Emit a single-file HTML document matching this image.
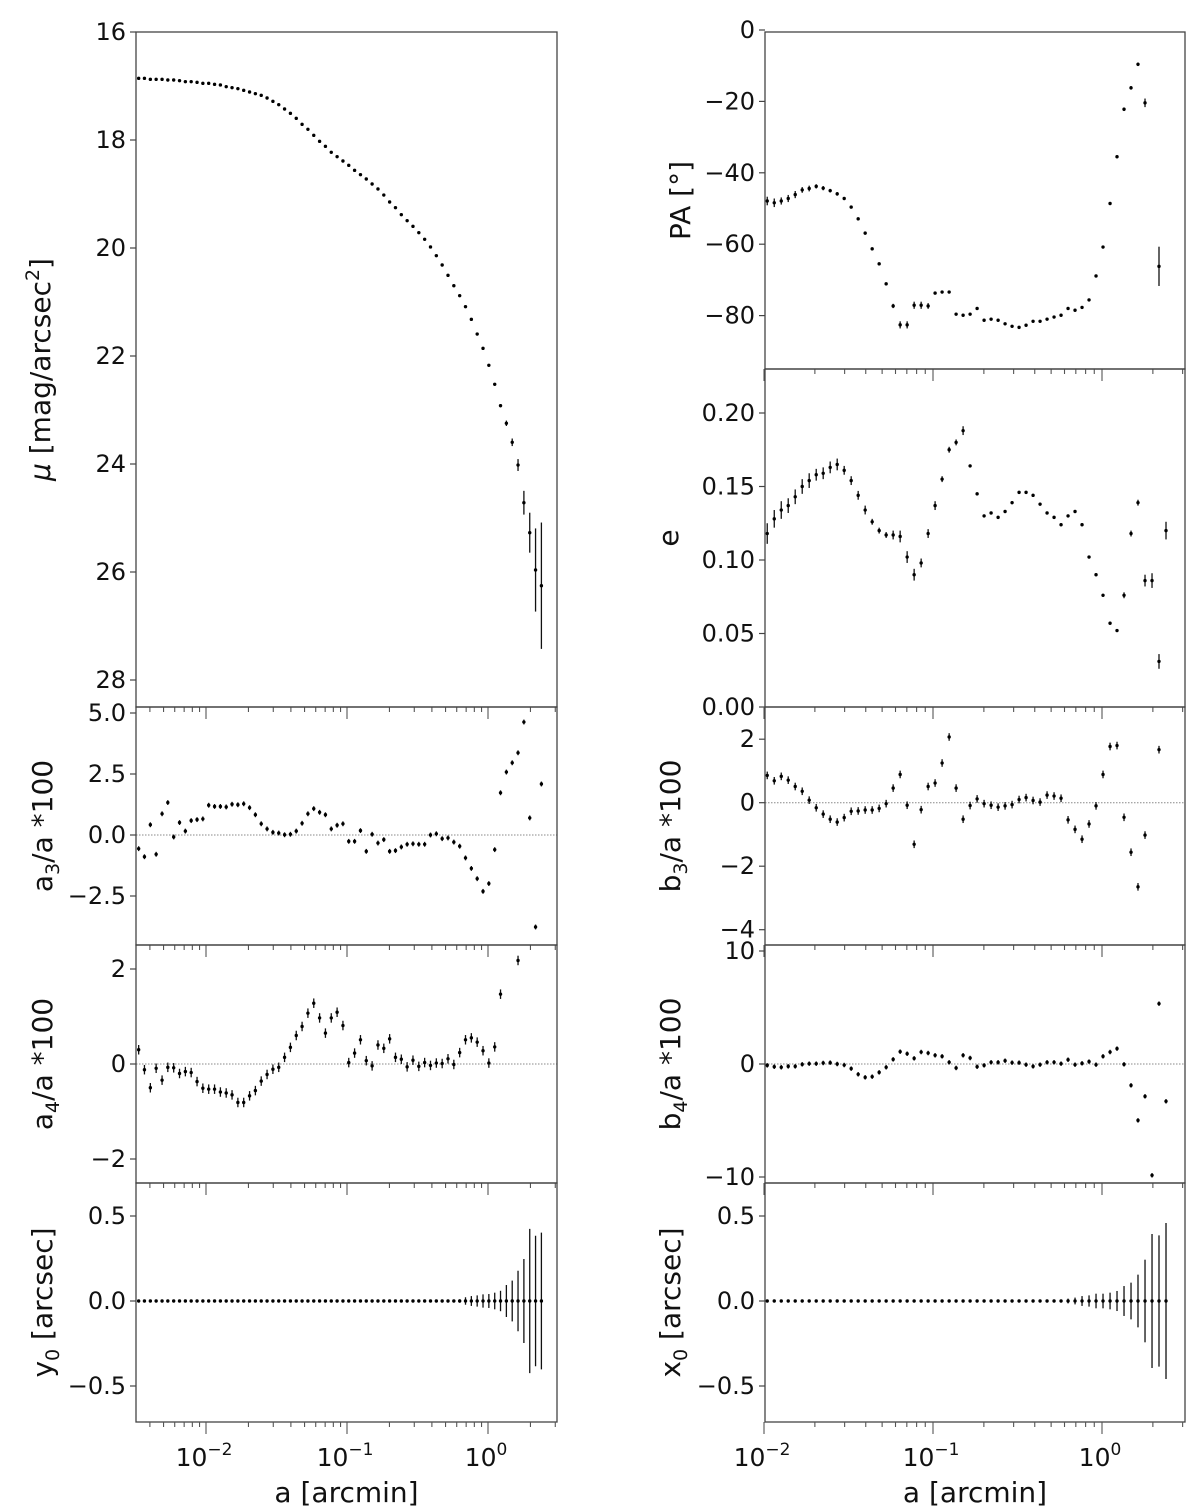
<!DOCTYPE html>
<html><head><meta charset="utf-8"><style>
html,body{margin:0;padding:0;background:#fff;}
svg{display:block;font-family:"DejaVu Sans","Liberation Sans",sans-serif;}
</style></head>
<body>
<svg id="fig" width="1200" height="1511" viewBox="0 0 1200 1511" xmlns="http://www.w3.org/2000/svg"></svg>
<script>
// ---- data ----
const radii = [0.00333,0.00366,0.00403,0.00443,0.00488,0.00536,0.00590,0.00649,0.00714,0.00785,0.00864,0.00950,0.01045,0.01150,0.01265,0.01391,0.01530,0.01683,0.01851,0.02037,0.02240,0.02464,0.02711,0.02982,0.03280,0.03608,0.03969,0.04366,0.04802,0.05282,0.05811,0.06392,0.07031,0.07734,0.08508,0.09358,0.1029,0.1132,0.1246,0.1370,0.1507,0.1658,0.1824,0.2006,0.2207,0.2428,0.2670,0.2937,0.3231,0.3554,0.3910,0.4301,0.4731,0.5204,0.5724,0.6297,0.6926,0.7619,0.8381,0.9219,1.014,1.116,1.227,1.350,1.485,1.633,1.797,1.977,2.174,2.392];
const muVals = [16.858,16.858,16.877,16.877,16.877,16.889,16.889,16.901,16.920,16.920,16.932,16.951,16.951,16.969,16.981,17.012,17.031,17.049,17.080,17.111,17.142,17.173,17.222,17.284,17.346,17.426,17.506,17.599,17.710,17.802,17.914,18.025,18.117,18.228,18.309,18.389,18.469,18.562,18.642,18.722,18.815,18.907,19.019,19.148,19.253,19.383,19.494,19.599,19.716,19.839,19.981,20.142,20.315,20.506,20.698,20.883,21.086,21.321,21.593,21.858,22.172,22.524,22.920,23.246,23.598,24.019,24.717,25.272,25.963,26.254];
const muErr = [0,0,0,0,0,0,0,0,0,0,0,0,0,0,0,0,0,0,0,0,0,0,0,0,0,0,0,0,0,0,0,0,0,0,0,0,0,0,0,0,0,0,0,0,0,0,0,0,0,0,0,0,0,0,0,0,0,0,0,0,0.02,0.02,0.03,0.05,0.07,0.11,0.22,0.37,0.77,1.17];
const a3Vals = [-0.56,-0.89,0.42,-0.79,0.87,1.33,-0.08,0.51,0.16,0.59,0.63,0.66,1.22,1.17,1.17,1.15,1.26,1.24,1.28,1.12,0.83,0.46,0.25,0.11,0.08,0.01,0.03,0.16,0.48,0.87,1.08,0.93,0.83,0.25,0.40,0.46,-0.26,-0.26,0.18,-0.67,0.03,-0.33,-0.19,-0.67,-0.64,-0.49,-0.38,-0.36,-0.38,-0.38,0.00,0.05,-0.15,-0.12,-0.29,-0.46,-0.94,-1.37,-1.79,-2.31,-1.99,-0.60,1.73,2.58,2.96,3.37,4.63,0.70,-3.77,2.09];
const a4Vals = [0.30,-0.12,-0.50,-0.09,-0.34,-0.07,-0.08,-0.20,-0.16,-0.18,-0.37,-0.51,-0.53,-0.53,-0.59,-0.61,-0.65,-0.81,-0.81,-0.67,-0.56,-0.36,-0.22,-0.11,-0.07,0.14,0.35,0.60,0.79,1.07,1.28,0.97,0.65,0.97,1.09,0.81,0.03,0.23,0.51,0.07,-0.04,0.40,0.33,0.53,0.14,0.10,-0.06,0.08,-0.05,0.03,-0.03,0.02,0.01,0.11,-0.01,0.24,0.51,0.55,0.46,0.28,0.02,0.36,1.47,null,null,2.18,null,null,null,null];
const y0Vals = [0,0,0,0,0,0,0,0,0,0,0,0,0,0,0,0,0,0,0,0,0,0,0,0,0,0,0,0,0,0,0,0,0,0,0,0,0,0,0,0,0,0,0,0,0,0,0,0,0,0,0,0,0,0,0,0,0,0,0,0,0,0,0,0,0,0,0,0,0,0];
const y0Err = [0,0,0,0,0,0,0,0,0,0,0,0,0,0,0,0,0,0,0,0,0,0,0,0,0,0,0,0,0,0,0,0,0,0,0,0,0,0,0,0.005,0,0,0,0,0,0,0,0,0,0,0,0,0,0,0,0.01,0.022,0.029,0.033,0.039,0.041,0.049,0.060,0.094,0.120,0.178,0.247,0.424,0.384,0.402];
const paVals = [null,null,null,null,null,null,null,null,null,null,null,null,-47.9,-48.4,-47.9,-47.2,-46.1,-44.8,-44.4,-43.8,-44.3,-45.0,-45.9,-47.2,-49.6,-52.9,-56.9,-61.3,-65.5,-71.1,-77.3,-82.6,-82.6,-77.1,-77.1,-77.3,-73.7,-73.4,-73.4,-79.6,-79.9,-79.6,-78.0,-81.3,-81.0,-81.3,-82.3,-83.0,-83.3,-82.7,-81.6,-81.6,-81.0,-80.4,-79.9,-78.0,-78.5,-77.7,-75.6,-68.9,-60.8,-48.6,-35.5,-22.2,-16.2,-9.6,-20.4,null,-66.2,null];
const paErr = [0,0,0,0,0,0,0,0,0,0,0,0,1.2,1.2,1.0,1.0,1.0,0.8,0.8,0.6,0.6,0.5,0.5,0.4,0.4,0.4,0.4,0.4,0.4,0.4,0.6,1.0,1.0,1.0,1.0,0.8,0.3,0.3,0.3,0.3,0.3,0.3,0.3,0.3,0.3,0.3,0.3,0.3,0.3,0.3,0.3,0.3,0.3,0.3,0.3,0.3,0.3,0.3,0.3,0.3,0.3,0.3,0.4,0.5,0.5,0.5,1.2,0,5.5,0];
const eVals = [null,null,null,null,null,null,null,null,null,null,null,null,0.118,0.128,0.134,0.137,0.143,0.150,0.154,0.158,0.159,0.163,0.165,0.161,0.154,0.144,0.134,0.126,0.120,0.117,0.117,0.116,0.102,0.090,0.098,0.118,0.137,0.155,0.175,0.180,0.188,0.164,0.145,0.130,0.132,0.129,0.133,0.139,0.146,0.146,0.144,0.138,0.132,0.129,0.124,0.130,0.133,0.124,0.102,0.090,0.076,0.057,0.052,0.076,0.118,0.139,0.086,0.086,0.031,0.120];
const eErr = [0,0,0,0,0,0,0,0,0,0,0,0,0.007,0.006,0.006,0.005,0.005,0.005,0.005,0.004,0.004,0.004,0.004,0.003,0.003,0.003,0.003,0.002,0.002,0.002,0.003,0.004,0.004,0.004,0.003,0.003,0.003,0.002,0.002,0.002,0.003,0.001,0.001,0.001,0.001,0.001,0.001,0.001,0.001,0.001,0.001,0.001,0.001,0.001,0.001,0.001,0.001,0.001,0.001,0.001,0.001,0.001,0.001,0.002,0.002,0.002,0.004,0.005,0.005,0.006];
const b3Vals = [null,null,null,null,null,null,null,null,null,null,null,null,0.86,0.69,0.83,0.71,0.51,0.36,0.08,-0.16,-0.36,-0.52,-0.61,-0.47,-0.27,-0.26,-0.23,-0.23,-0.18,-0.03,0.46,0.89,-0.08,-1.31,-0.22,0.51,0.62,1.25,2.07,0.46,-0.52,-0.09,0.12,-0.03,-0.08,-0.14,-0.10,-0.06,0.10,0.16,0.07,0.02,0.24,0.21,0.14,-0.54,-0.84,-1.15,-0.67,-0.10,0.89,1.77,1.80,-0.46,-1.56,-2.65,-1.02,null,1.67,null];
const b4Vals = [null,null,null,null,null,null,null,null,null,null,null,null,-0.12,-0.24,-0.29,-0.21,-0.21,-0.03,0.03,0.03,0.09,0.12,0.00,-0.09,-0.41,-0.91,-1.18,-1.12,-0.74,-0.29,0.41,1.09,0.91,0.50,1.06,0.97,0.77,0.68,0.15,-0.35,0.77,0.53,-0.24,-0.12,0.15,0.15,0.29,0.12,0.12,-0.06,-0.21,-0.06,0.15,0.15,0.03,0.38,-0.06,0.06,0.21,-0.06,0.68,1.06,1.36,-0.03,-1.89,-4.99,-2.86,-9.85,5.34,-3.30];
const x0Vals = [null,null,null,null,null,null,null,null,null,null,null,null,0,0,0,0,0,0,0,0,0,0,0,0,0,0,0,0,0,0,0,0,0,0,0,0,0,0,0,0,0,0,0,0,0,0,0,0,0,0,0,0,0,0,0,0,0,0,0,0,0,0,0,0,0,0,0,0,0,0];
const x0Err = [0,0,0,0,0,0,0,0,0,0,0,0,0,0,0,0,0,0,0,0,0,0,0,0,0,0,0,0,0,0,0,0,0,0,0,0,0,0,0,0,0,0,0,0,0,0,0,0,0,0,0,0,0,0,0,0.014,0.02,0.029,0.033,0.043,0.043,0.049,0.059,0.088,0.108,0.155,0.243,0.394,0.386,0.459];
const muTicks = [16,18,20,22,24,26,28];
const a3Ticks = [5.0,2.5,0.0,-2.5];
const a3TickLabels = ["5.0","2.5","0.0","\u22122.5"];
const a4Ticks = [2,0,-2];
const offTicks = [0.5,0.0,-0.5];
const offTickLabels = ["0.5","0.0","\u22120.5"];
const paTicks = [0,-20,-40,-60,-80];
const eTicks = [0.20,0.15,0.10,0.05,0.00];
const eTickLabels = ["0.20","0.15","0.10","0.05","0.00"];
const b3Ticks = [2,0,-2,-4];
const b4Ticks = [10,0,-10];
const decadeTicks = [-2,-1,0];

const NS = "http://www.w3.org/2000/svg";
const svg = document.getElementById('fig');
function mk(tag, attrs, parent){
  const e = document.createElementNS(NS, tag);
  for (const k in attrs) e.setAttribute(k, attrs[k]);
  (parent||svg).appendChild(e);
  return e;
}
function lab(v){ return (v<0?"\u2212":"") + Math.abs(v); }

const colL = {x0:136, x1:557, xs: a => 488 + 141*Math.log10(a), amin:0.00318};
const colR = {x0:765, x1:1185, xs: a => 1102 + 169*Math.log10(a), amin:0.0100};

let clipId = 0;
function panel(cfg){
  const {col, top, bot, ys, ticks, tickLabels, vals, err, errDef, zero, title, titleX, name, xlabels} = cfg;
  const g = mk('g', {});
  
  
  clipId++;
  const cp = mk('clipPath', {id:'cp'+clipId}, g);
  mk('rect', {x:col.x0, y:top, width:col.x1-col.x0, height:bot-top}, cp);
  if (zero){
    const zl = mk('line', {x1:col.x0, x2:col.x1, y1:ys(0), y2:ys(0), stroke:'#888', 'stroke-width':1, 'stroke-dasharray':'1.5,1.5'}, g);
    
    
  }
  const dg = mk('g', {'clip-path':'url(#cp'+clipId+')'}, g);
  
  
  for (let i=0;i<radii.length;i++){
    const v = vals[i];
    if (v===null || v===undefined) continue;
    const x = col.xs(radii[i]);
    const y = ys(v);
    const ev = err ? err[i] : errDef;
    if (ev>0){
      const eb = mk('line', {x1:x, x2:x, y1:ys(v-ev), y2:ys(v+ev), stroke:'#111', 'stroke-width':1.3}, dg);
      
      
    }
    const c = mk('circle', {cx:x, cy:y, r:1.7, fill:'#000'}, dg);
    
    
  }
  const fr = mk('rect', {x:col.x0, y:top, width:col.x1-col.x0, height:bot-top, fill:'none', stroke:'#444', 'stroke-width':1.3}, g);
  
  
  ticks.forEach((t,k)=>{
    const y = ys(t);
    mk('line', {x1:col.x0-6, x2:col.x0, y1:y, y2:y, stroke:'#444', 'stroke-width':1.2}, g);
    const tx = mk('text', {x:col.x0-10, y:y+8, 'text-anchor':'end', 'font-size':24, fill:'#111'}, g);
    tx.textContent = tickLabels ? tickLabels[k] : lab(t);
    
    
  });
  for (let d=-3; d<=0; d++){
    for (let m=1;m<10;m++){
      const a = m*Math.pow(10,d);
      if (a<col.amin || a>3.12) continue;
      const x = col.xs(a);
      const len = m===1 ? 12 : 5;
      mk('line', {x1:x, x2:x, y1:bot, y2:bot+len, stroke:'#555', 'stroke-width':1.1}, g);
    }
  }
  if (xlabels){
    decadeTicks.forEach(d=>{
      const a = Math.pow(10,d);
      if (a<col.amin) return;
      const x = col.xs(a);
      const t = mk('text', {x:x-2, y:bot+44, 'text-anchor':'middle', 'font-size':25, fill:'#111'}, g);
      
      
      const s1 = mk('tspan', {}, t); s1.textContent = '10';
      const s2 = mk('tspan', {dy:-11, 'font-size':17}, t); s2.textContent = d===0 ? '0' : '\u2212'+Math.abs(d);
    });
    const xt = mk('text', {x:(col.x0+col.x1)/2, y:bot+80, 'text-anchor':'middle', 'font-size':28, fill:'#111'}, g);
    xt.textContent = 'a [arcmin]';
    
    
  }
  const cy = (top+bot)/2;
  const tt = mk('text', {x:titleX, y:cy, 'text-anchor':'middle', 'font-size':28, fill:'#111', transform:'rotate(-90 '+titleX+' '+cy+')'}, g);
  tt.innerHTML = title;
  
  
}

panel({name:'surface-brightness-panel', col:colL, top:32, bot:707, ys:v=>32+(v-16)*54, ticks:muTicks, vals:muVals, err:muErr, titleX:50,
  title:'<tspan font-style="italic">\u03bc</tspan> [mag/arcsec<tspan dy="-11" font-size="19">2</tspan><tspan dy="11">]</tspan>'});
panel({name:'a3-panel', col:colL, top:707, bot:945, ys:v=>835-24.4*v, ticks:a3Ticks, tickLabels:a3TickLabels, vals:a3Vals, errDef:0.1, zero:true, titleX:52,
  title:'a<tspan dy="7" font-size="19">3</tspan><tspan dy="-7">/a *100</tspan>'});
panel({name:'a4-panel', col:colL, top:945, bot:1183, ys:v=>1064-47.5*v, ticks:a4Ticks, vals:a4Vals, errDef:0.1, zero:true, titleX:52,
  title:'a<tspan dy="7" font-size="19">4</tspan><tspan dy="-7">/a *100</tspan>'});
panel({name:'y0-panel', col:colL, top:1183, bot:1422, ys:v=>1301-170*v, ticks:offTicks, tickLabels:offTickLabels, vals:y0Vals, err:y0Err, titleX:52, xlabels:true,
  title:'y<tspan dy="7" font-size="19">0</tspan><tspan dy="-7"> [arcsec]</tspan>'});

panel({name:'position-angle-panel', col:colR, top:32, bot:369, ys:v=>30-3.57*v, ticks:paTicks, vals:paVals, err:paErr, titleX:690,
  title:'PA [\u00b0]'});
panel({name:'ellipticity-panel', col:colR, top:369, bot:707, ys:v=>707-1470*v, ticks:eTicks, tickLabels:eTickLabels, vals:eVals, err:eErr, titleX:678,
  title:'e'});
panel({name:'b3-panel', col:colR, top:707, bot:945, ys:v=>802.7-31.75*v, ticks:b3Ticks, vals:b3Vals, errDef:0.12, zero:true, titleX:680,
  title:'b<tspan dy="7" font-size="19">3</tspan><tspan dy="-7">/a *100</tspan>'});
panel({name:'b4-panel', col:colR, top:945, bot:1183, ys:v=>1064-11.3*v, ticks:b4Ticks, vals:b4Vals, errDef:0.2, zero:true, titleX:680,
  title:'b<tspan dy="7" font-size="19">4</tspan><tspan dy="-7">/a *100</tspan>'});
panel({name:'x0-panel', col:colR, top:1183, bot:1422, ys:v=>1301-170*v, ticks:offTicks, tickLabels:offTickLabels, vals:x0Vals, err:x0Err, titleX:680, xlabels:true,
  title:'x<tspan dy="7" font-size="19">0</tspan><tspan dy="-7"> [arcsec]</tspan>'});
</script>
</body></html>
